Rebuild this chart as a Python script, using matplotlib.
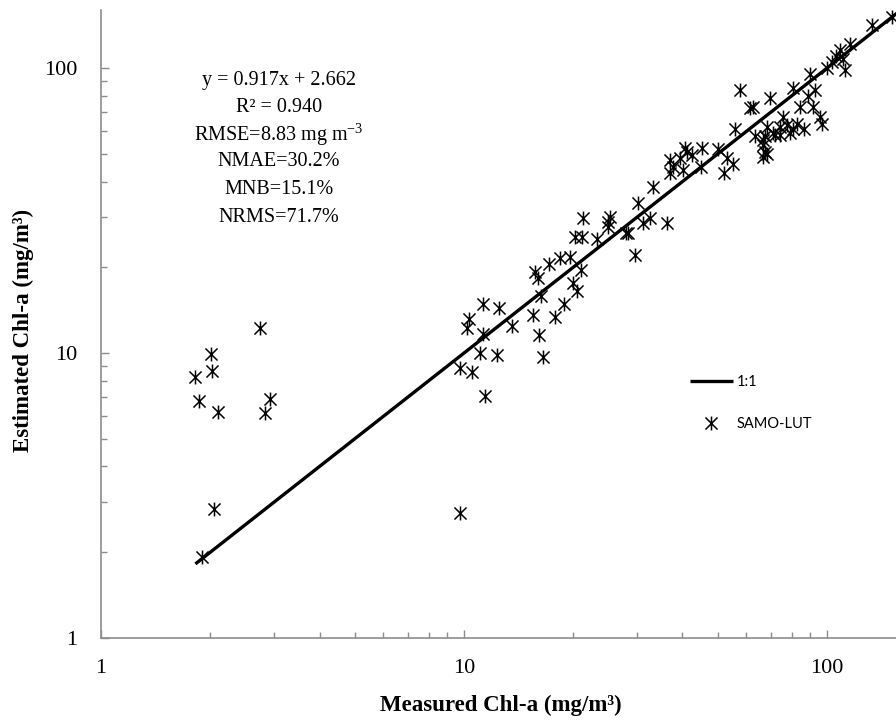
import numpy as np
import matplotlib
matplotlib.use('Agg')
import matplotlib.pyplot as plt
from matplotlib.path import Path
from matplotlib.ticker import LogLocator, NullFormatter, FixedLocator, FixedFormatter

plt.rcParams['mathtext.fontset'] = 'custom'
plt.rcParams['mathtext.rm'] = 'Liberation Serif'

# measured vs estimated Chl-a (mg/m3)
measured = [1.82, 1.86, 2.01, 2.02, 2.10, 2.83, 2.92, 2.05, 1.90, 2.75, 9.75,
            9.75, 10.5, 11.4, 11.1, 12.3, 11.3, 12.5, 10.3, 10.2, 11.3,
            13.6, 15.5, 16.1, 16.5, 17.8, 18.9, 16.3, 15.7, 17.1, 18.4, 19.6, 16.0, 20.0,
            20.5, 21.0,
            21.3, 25.3, 20.2, 21.1, 23.2, 25.0, 28.0, 30.2, 33.2, 31.2, 32.5, 36.2, 29.6,
            36.9, 37.6, 25.0, 28.3,
            57.6, 61.3, 55.8, 40.6, 45.2, 39.4, 42.4, 36.9, 40.1, 52.9, 55.1, 52.2,
            66.8, 67.5, 66.8, 41.1, 68.2, 71.1, 74.2, 77.5, 80.8, 45.0, 50.0,
            132.8, 150.7, 108.6, 115.7, 111.0, 106.0, 112.0, 89.8, 80.8, 92.7, 69.5, 62.7,
            88.8, 84.3, 91.6, 75.7, 95.7, 82.5, 74.2, 68.2, 86.2, 96.8, 78.9, 67.5, 71.8,
            66.8, 63.4, 100.0, 103.0]
estimated = [8.22, 6.79, 9.92, 8.67, 6.22, 6.14, 6.88, 2.84, 1.93, 12.2, 2.74,
             8.84, 8.6, 7.06, 9.98, 9.84, 14.9, 14.4, 13.2, 12.2, 11.7,
             12.4, 13.6, 11.6, 9.7, 13.4, 14.9, 15.8, 19.3, 20.6, 21.5, 21.8, 18.3, 17.6,
             16.5, 19.5,
             29.7, 30.1, 25.6, 25.6, 25.2, 27.7, 26.3, 33.5, 38.4, 28.5, 29.7, 28.5, 22.1,
             47.5, 45.0, 28.9, 26.3,
             83.7, 72.3, 61.4, 52.3, 52.3, 48.2, 49.5, 42.7, 44.0, 48.2, 46.2, 42.7,
             55.9, 50.9, 48.8, 50.9, 50.1, 59.0, 58.3, 63.1, 61.4, 45.0, 52.0,
             141.6, 151.0, 115.6, 122.0, 108.0, 110.0, 98.4, 95.7, 84.9, 83.7, 78.3, 73.2,
             79.9, 73.2, 73.2, 67.5, 67.5, 63.9, 62.2, 62.2, 61.4, 63.9, 59.0, 57.6, 58.3,
             53.7, 57.6, 100.0, 105.0]

stats_lines = ['y = 0.917x + 2.662', 'R² = 0.940', r'RMSE=8.83 mg m$^{\mathregular{-3}}$',
               'NMAE=30.2%', 'MNB=15.1%', 'NRMS=71.7%']

# star marker like Excel: X plus vertical bar
star = Path([(-1, -1), (1, 1), (-1, 1), (1, -1), (0, -1.15), (0, 1.15)],
            [Path.MOVETO, Path.LINETO, Path.MOVETO, Path.LINETO, Path.MOVETO, Path.LINETO])

fig = plt.figure(figsize=(8.96, 7.24), dpi=100)
ax = fig.add_axes([101 / 896, 86 / 724, 795 / 896, 628 / 724])

x0 = min(measured)
ax.plot([x0, 200], [x0, 200], color='black', lw=2.4, label='1:1', solid_capstyle='butt')
ax.plot(measured, estimated, linestyle='none', marker=star, markersize=10,
        markerfacecolor='none', markeredgecolor='black', markeredgewidth=1.1, label='SAMO-LUT')

ax.set_xscale('log')
ax.set_yscale('log')
ax.set_xlim(1, 155)
ax.set_ylim(1, 160)

for s in ['top', 'right']:
    ax.spines[s].set_visible(False)
for s in ['left', 'bottom']:
    ax.spines[s].set_color('#8c8c8c')
    ax.spines[s].set_linewidth(1.2)

for axis in [ax.xaxis, ax.yaxis]:
    axis.set_major_locator(FixedLocator([1, 10, 100]))
    axis.set_major_formatter(FixedFormatter(['1', '10', '100']))
    axis.set_minor_locator(LogLocator(base=10, subs=np.arange(2, 10)))
    axis.set_minor_formatter(NullFormatter())
ax.tick_params(which='both', direction='in', color='#8c8c8c', width=1)
ax.tick_params(which='major', length=6, labelsize=16)
ax.tick_params(which='minor', length=4)
ax.tick_params(axis='x', which='major', pad=15)
ax.tick_params(axis='y', which='major', pad=17)
for lab in ax.get_xticklabels() + ax.get_yticklabels():
    lab.set_fontfamily('Liberation Serif')

xl = ax.set_xlabel('Measured Chl-a (mg/m³)', fontfamily='Liberation Serif', fontweight='bold',
                   fontsize=16.5)
xl.set_va('center')
ax.xaxis.set_label_coords(0.503, -0.108)
yl = ax.set_ylabel('Estimated Chl-a (mg/m³)', fontfamily='Liberation Serif', fontweight='bold',
                   fontsize=16.5)
yl.set_va('center')
ax.yaxis.set_label_coords(-0.098, 0.49)

ys = [80, 107.5, 135, 162, 189.5, 217]
for t, yp in zip(stats_lines, ys):
    fig.text(279 / 896, 1 - yp / 724, t, ha='center', va='center',
             fontfamily='Liberation Serif', fontsize=14.5)

leg = ax.legend(loc='upper left', bbox_to_anchor=(683 / 896, 1 - 368 / 724),
                bbox_transform=fig.transFigure, frameon=False, borderpad=0,
                handlelength=2.9, handletextpad=0.3, labelspacing=1.9,
                prop={'family': 'Lato', 'size': 10.5})

fig.savefig('out.png', dpi=100)
